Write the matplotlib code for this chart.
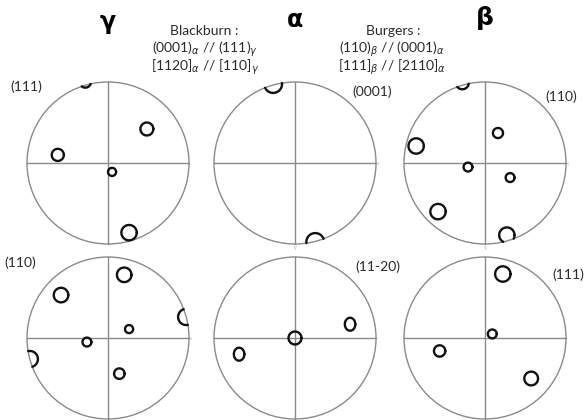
import matplotlib
matplotlib.use('Agg')
import matplotlib.pyplot as plt
import numpy as np
from matplotlib.patches import Circle

plt.rcParams['font.family'] = ['Lato', 'DejaVu Sans']

# figure size in pixels
W, H = 585, 420
R = 81  # pole figure radius in pixels

# panel centres (pixels from top-left)
centres = [(108, 163), (295, 163), (485, 163),
           (108, 338), (295, 338), (485, 338)]

# pole figure labels
labels = ['(111)', '(0001)', '(110)', '(110)', '(11-20)', '(111)']
label_pos = [(26, 87), (372, 92), (561, 97), (20, 263), (378, 267), (568, 275)]

# poles of each figure: x, y (unit circle), width, height (unit circle)
g111_x = [-0.28, 0.48, -0.62, 0.05, 0.26]
g111_y = [1.00, 0.42, 0.10, -0.11, -0.86]
g111_d = [0.14, 0.16, 0.15, 0.10, 0.19]

a0001_x = [-0.27, 0.25]
a0001_y = [0.975, -0.975]
a0001_d = [0.22, 0.22]

b110_x = [-0.28, -0.85, 0.16, -0.21, 0.31, -0.58, 0.27]
b110_y = [0.99, 0.21, 0.37, -0.05, -0.18, -0.60, -0.89]
b110_d = [0.16, 0.19, 0.125, 0.11, 0.11, 0.19, 0.19]

g110_x = [0.20, -0.58, 0.965, 0.26, -0.26, -0.965, 0.14]
g110_y = [0.78, 0.53, 0.26, 0.11, -0.05, -0.26, -0.44]
g110_d = [0.18, 0.18, 0.20, 0.10, 0.11, 0.20, 0.13]

a1120_x = [0.68, 0.0, -0.69]
a1120_y = [0.17, 0.0, -0.20]
a1120_w = [0.13, 0.16, 0.13]
a1120_h = [0.16, 0.16, 0.16]

b111_x = [0.22, 0.09, -0.56, 0.57]
b111_y = [0.79, 0.05, -0.16, -0.50]
b111_d = [0.19, 0.11, 0.14, 0.17]

poles = [
    (g111_x, g111_y, g111_d, g111_d),
    (a0001_x, a0001_y, a0001_d, a0001_d),
    (b110_x, b110_y, b110_d, b110_d),
    (g110_x, g110_y, g110_d, g110_d),
    (a1120_x, a1120_y, a1120_w, a1120_h),
    (b111_x, b111_y, b111_d, b111_d),
]

# panels that show the small axis marks (right end, bottom end)
axis_marks = [(False, False), (True, True), (True, True),
              (True, False), (False, False), (False, False)]

fig = plt.figure(figsize=(W / 100, H / 100), dpi=100)

t = np.linspace(0, 2 * np.pi, 361)
pad = 1.06
for i, (cx, cy) in enumerate(centres):
    half = R * pad
    ax = fig.add_axes([(cx - half) / W, (H - cy - half) / H, 2 * half / W, 2 * half / H])
    ax.set_xlim(-pad, pad)
    ax.set_ylim(-pad, pad)
    ax.set_aspect('equal')
    ax.axis('off')

    ax.add_patch(Circle((0, 0), 1, fill=False, ec='#8a8a8a', lw=1.0))
    ax.plot([-1, 1], [0, 0], color='#8a8a8a', lw=1.0)
    ax.plot([0, 0], [-1, 1], color='#8a8a8a', lw=1.0)

    # poles, cut where they leave the projection circle
    xs, ys, ws, hs = poles[i]
    for x, y, w, h in zip(xs, ys, ws, hs):
        px = x + w / 2 * np.cos(t)
        py = y + h / 2 * np.sin(t)
        outside = px ** 2 + py ** 2 > 1.0
        px[outside] = np.nan
        py[outside] = np.nan
        ax.plot(px, py, color='#111111', lw=1.7, solid_capstyle='round')

    right, bottom = axis_marks[i]
    if right:
        ax.text(1.03, 0, 'x', fontsize=4, color='#aaaaaa', ha='center', va='center', rotation=90)
    if bottom:
        ax.text(0, -1.04, 'y', fontsize=4, color='#aaaaaa', ha='center', va='center')

# phase titles
fig.text(108 / W, 1 - 22 / H, 'γ', fontsize=17, fontweight='bold', ha='center', va='center',
         family='DejaVu Sans')
fig.text(295 / W, 1 - 20 / H, 'α', fontsize=17, fontweight='bold', ha='center', va='center',
         family='DejaVu Sans')
fig.text(485 / W, 1 - 18 / H, 'β', fontsize=18, fontweight='bold', ha='center', va='center',
         family='DejaVu Sans')

# orientation relations
txt = '#2a2a2a'
fs = 10
fig.text(204 / W, 1 - 31 / H, 'Blackburn :', fontsize=fs, color=txt, ha='center', va='center')
fig.text(205 / W, 1 - 49 / H, r'(0001)$_{\alpha}$ // (111)$_{\gamma}$', fontsize=fs, color=txt,
         ha='center', va='center')
fig.text(205 / W, 1 - 67 / H, r'[1120]$_{\alpha}$ // [110]$_{\gamma}$', fontsize=fs, color=txt,
         ha='center', va='center')

fig.text(393 / W, 1 - 31 / H, 'Burgers :', fontsize=fs, color=txt, ha='center', va='center')
fig.text(392 / W, 1 - 49 / H, r'(110)$_{\beta}$ // (0001)$_{\alpha}$', fontsize=fs, color=txt,
         ha='center', va='center')
fig.text(392 / W, 1 - 67 / H, r'[111]$_{\beta}$ // [2110]$_{\alpha}$', fontsize=fs, color=txt,
         ha='center', va='center')

for lab, (lx, ly) in zip(labels, label_pos):
    fig.text(lx / W, 1 - ly / H, lab, fontsize=fs, color=txt, ha='center', va='center')

fig.savefig('out.png', dpi=100)
